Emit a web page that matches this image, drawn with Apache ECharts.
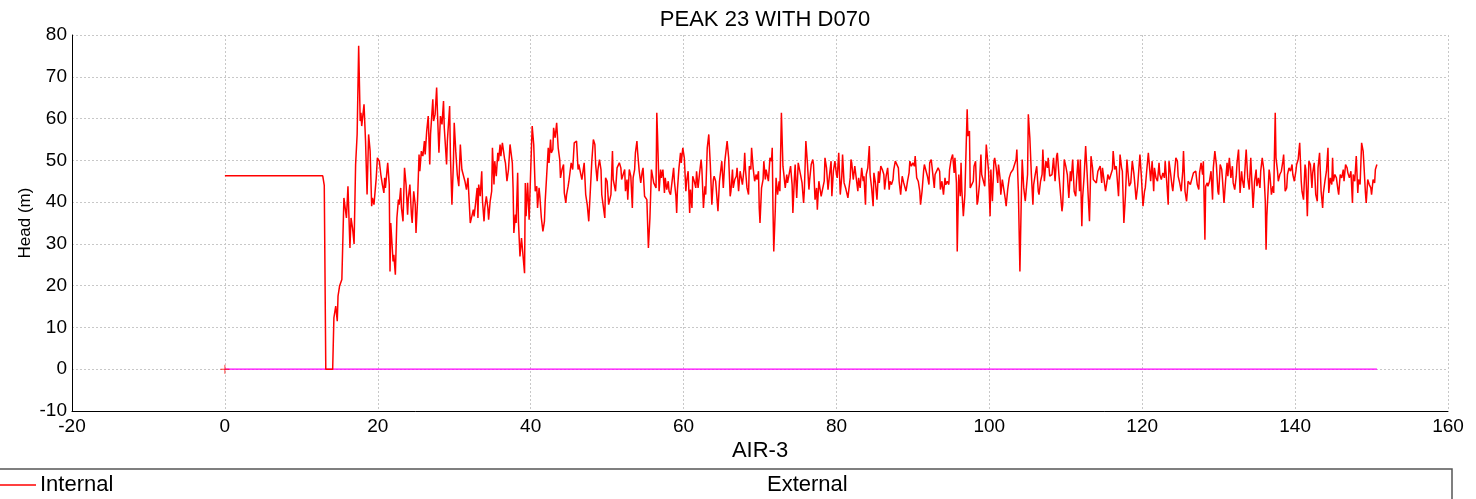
<!DOCTYPE html>
<html>
<head>
<meta charset="utf-8">
<title>PEAK 23 WITH D070</title>
<script src="https://cdn.jsdelivr.net/npm/echarts@6/dist/echarts.min.js"></script>
<style>
  html, body { margin: 0; padding: 0; background: #fff; }
  #chart { width: 1476px; height: 499px; }
</style>
</head>
<body>
<div id="chart"></div>
<script>
// time (AIR-3) vs head (m)
var internalPoints = [
  [0,46.3],[12.8,46.3],[13.0,44],[13.2,0],[14.1,0],[14.26,12.3],[14.5,15.1],[14.7,11.5],[14.8,17.5],[15.0,19.9],[15.3,21.5],
  [15.57,41],[15.9,36.2],[16.1,43.8],[16.36,29],[16.5,36.2],[16.7,33.8],[16.9,30],[17.1,49],[17.3,56.2],[17.5,77.4],[17.7,59.4],[17.8,61.4],[17.9,58.2],[18.2,63.4],[18.4,54.6],[18.6,41.8],[18.8,56.2],[19.0,52.2],[19.2,39],[19.3,41],[19.5,39.4],[19.8,45.8],[19.95,50.6],
  [20.2,49.8],[20.4,46.6],[20.6,44.2],[20.8,42.2],[20.9,45.8],[21.0,43.4],[21.3,49.4],[21.5,44.2],[21.6,23.4],[21.7,35],[21.9,35],[22.0,25.8],[22.1,27.4],[22.3,22.6],[22.5,36.2],[22.7,40.6],[22.8,39.4],[23.0,43.4],[23.1,38.6],[23.3,35.4],[23.5,48.2],[23.7,44.2],[23.9,37],[24.0,41],[24.2,44.2],[24.4,37],[24.5,35],[24.7,42.6],[24.9,39.4],
  [25.0,32.6],[25.2,40.2],[25.4,51.4],[25.5,47.4],[25.7,52.2],[25.9,51],[26.1,54.6],[26.2,51.4],[26.4,57],[26.6,60.6],[26.8,49],[26.9,56.2],[27.2,64.6],[27.3,59.4],[27.5,61],[27.7,67.4],[27.8,61.8],[28.0,51.8],[28.2,60.6],[28.4,58.6],[28.6,64.2],[28.7,57.8],[29.0,49],[29.1,54.6],[29.4,63],[29.5,51.4],[29.7,39.4],[29.9,49.8],
  [30.0,59],[30.2,52.2],[30.4,46.6],[30.6,43.8],[30.8,53.8],[31.0,47.8],[31.2,47.4],[31.4,45],[31.6,43],[31.8,45.8],[31.9,42.2],[32.1,35],[32.3,36.6],[32.5,38.2],[32.6,36.6],[32.8,39.8],[33.0,43.4],[33.1,36.2],[33.2,44.2],[33.4,41.4],[33.6,47.4],[33.7,40.2],[33.9,35.4],[34.0,38.6],[34.2,41.4],[34.4,38.6],[34.5,35.8],[34.7,40.2],[34.9,42.6],
  [35.0,53],[35.2,44.2],[35.3,49.8],[35.5,46.2],[35.7,51.8],[35.8,49.8],[36.0,53.8],[36.1,51],[36.3,54.2],[36.4,54.6],[36.6,50.2],[36.7,49.4],[36.9,45],[37.1,47.8],[37.3,53.8],[37.4,54.2],[37.6,49.4],[37.7,43.4],[37.8,32.6],[38.0,37],[38.1,35],[38.3,47],[38.4,35.4],[38.6,27],[38.8,31.4],[39.0,31],[39.2,23],[39.3,44.6],[39.4,36.6],[39.6,44.6],[39.8,35.8],
  [40.0,47.4],[40.2,58.2],[40.4,53.8],[40.6,42.6],[40.8,43.8],[40.9,38.6],[41.1,43.4],[41.2,41.4],[41.4,36.2],[41.6,33],[41.8,35.4],[41.9,40.2],[42.1,46.6],[42.3,53],[42.4,49.4],[42.6,55],[42.7,51.8],[42.9,52.6],[43.0,57.8],[43.2,55.4],[43.4,59],[43.5,59.4],[43.6,53],[43.8,50.2],[43.9,45.8],[44.1,47.8],[44.3,49],[44.4,42.2],[44.6,39.8],[44.7,41.8],[44.9,43.8],
  [45.0,45],[45.2,44.6],[45.3,49.4],[45.5,47.8],[45.7,54.2],[45.8,53.8],[46.0,54.6],[46.2,47.8],[46.3,49],[46.5,49.4],[46.7,45.4],[46.8,45.4],[47.0,49.4],[47.2,41.8],[47.4,39.4],[47.6,35.4],[47.8,42.6],[47.9,42.6],[48.0,49.8],[48.2,55],[48.4,53.8],[48.5,49],[48.7,45],[48.8,47.8],[49.0,50.2],[49.2,47.8],[49.3,41.8],[49.5,41.8],[49.7,36.2],[49.8,45.8],
  [50.0,45],[50.2,39.4],[50.3,39],[50.5,41.8],[50.7,52.2],[50.8,45.4],[51.0,45.8],[51.1,42.6],[51.3,48.2],[51.4,48.6],[51.6,49.4],[51.8,48.2],[51.9,45.4],[52.1,46.6],[52.3,47.8],[52.4,42.6],[52.6,45.4],[52.7,40.6],[52.9,47.8],[53.1,46.2],[53.3,38.6],[53.4,45.8],[53.6,47.8],[53.7,51.8],[53.9,54.6],[54.0,51.8],[54.2,47.4],[54.4,44.6],[54.6,47.4],[54.7,48.2],[54.9,41.4],
  [55.1,41],[55.2,40.6],[55.4,29],[55.6,36.2],[55.8,47.8],[55.9,48.2],[56.1,44.6],[56.2,45],[56.4,43.4],[56.5,61.4],[56.6,55.8],[56.8,42.6],[57.0,47.8],[57.1,45.8],[57.3,47.8],[57.5,42.2],[57.6,45.8],[57.8,43],[58.0,45],[58.1,42.6],[58.3,41.8],[58.5,41.4],[58.7,48.2],[58.8,45],[59.0,41.4],[59.1,37.4],[59.2,43],[59.4,48.2],[59.6,51.8],[59.7,49.4],[59.9,53],
  [60.1,50.6],[60.3,42.6],[60.4,45],[60.6,47.4],[60.8,37.4],[60.9,43],[61.1,38.6],[61.2,46.2],[61.4,45],[61.6,43.4],[61.7,47.4],[61.9,43.4],[62.1,47],[62.3,50.2],[62.4,47.8],[62.6,38.6],[62.8,43.8],[62.9,41.8],[63.1,53],[63.3,56.2],[63.5,49],[63.7,39.4],[63.9,45.4],[64.0,46.2],[64.2,45],[64.4,40.2],[64.5,37.8],[64.7,45],[64.9,48.2],
  [65.0,49.8],[65.2,43.4],[65.4,49.8],[65.5,49.8],[65.7,54.6],[65.9,50.6],[66.1,41.4],[66.2,42.6],[66.4,47.8],[66.5,43.4],[66.7,45.4],[66.9,46.2],[67.0,48.2],[67.2,42.6],[67.4,47.4],[67.5,47],[67.7,44.2],[67.9,47.8],[68.0,51.8],[68.1,47.8],[68.3,43.4],[68.5,41.8],[68.6,48.6],[68.8,47.8],[68.9,53],[69.1,48.2],[69.3,45],[69.5,46.6],[69.6,45.4],[69.8,47.4],[69.9,38.6],
  [70.0,35],[70.2,43.4],[70.4,45.4],[70.5,49.8],[70.7,45.4],[70.8,47.8],[71.0,47.8],[71.1,45],[71.3,50.6],[71.5,49.8],[71.6,53],[71.7,38.2],[71.8,28.2],[72.0,38.2],[72.1,45.8],[72.3,41.8],[72.5,45],[72.6,42.6],[72.8,61.4],[73.0,48.6],[73.1,47],[73.3,43.4],[73.5,46.6],[73.6,44.6],[73.8,46.6],[74.0,48.6],[74.2,44.2],[74.3,37.4],[74.5,45.8],[74.6,49],[74.8,41],
  [75.0,49.4],[75.2,49.8],[75.3,46.6],[75.5,44.6],[75.7,39.8],[75.8,42.6],[76.0,54.6],[76.2,49.4],[76.4,43],[76.5,45.4],[76.7,49],[76.9,50.2],[77.0,49],[77.2,40.6],[77.4,43.4],[77.5,38.2],[77.7,45],[77.8,45],[78.0,41.4],[78.2,41.8],[78.4,45],[78.5,50.6],[78.7,48.2],[78.9,43],[79.1,46.6],[79.3,49.8],[79.4,41.4],[79.6,47.4],[79.8,49.8],
  [80.0,46.6],[80.1,45.8],[80.3,51.8],[80.5,41.8],[80.7,46.2],[80.8,51.4],[81.0,44.6],[81.2,43.4],[81.3,43.4],[81.5,41],[81.8,45.8],[81.9,50.2],[82.0,49.4],[82.2,45.4],[82.4,48.6],[82.6,48.6],[82.8,42.6],[82.9,45.8],[83.1,43.4],[83.3,48.2],[83.5,45],[83.6,46.2],[83.8,39.4],[83.9,46.6],[84.1,48.2],[84.3,53.4],[84.4,46.6],[84.6,43.4],[84.8,39],[84.9,47],
  [85.1,44.6],[85.3,40.6],[85.5,47.4],[85.6,44.6],[85.8,48.6],[86.0,47.8],[86.2,46.6],[86.3,43],[86.5,46.2],[86.7,48.2],[86.9,43],[87.0,45],[87.2,44.2],[87.4,45.4],[87.5,47.8],[87.7,49.8],[87.9,50.2],[88.1,48.2],[88.2,45],[88.4,41.8],[88.6,46.2],[88.8,44.6],[88.9,44.2],[89.1,42.6],[89.3,45],[89.5,47],[89.6,49.8],[89.8,48.6],
  [90.0,49.4],[90.2,48.6],[90.3,51],[90.5,45.8],[90.7,45],[90.9,42.6],[91.0,39.4],[91.2,42.6],[91.4,47.4],[91.5,49],[91.7,49.4],[91.9,46.2],[92.1,44.2],[92.2,49.4],[92.4,50.2],[92.6,50.6],[92.8,43.4],[92.9,46.6],[93.1,46.6],[93.3,48.2],[93.5,47.4],[93.6,43],[93.8,45],[94.0,41.8],[94.2,45.8],[94.3,44.2],[94.5,45],[94.7,44.2],[94.8,47.8],
  [95.0,50.2],[95.2,51.4],[95.4,47],[95.5,50.6],[95.7,44.6],[95.8,28.2],[96.0,46.6],[96.2,41.4],[96.3,49.4],[96.4,43],[96.6,36.6],[96.8,41.8],[97.0,41.8],[97.1,62.2],[97.2,55.8],[97.4,57],[97.5,43.4],[97.7,43],[97.9,45],[98.0,48.6],[98.2,49.8],[98.4,39.4],[98.5,40.2],[98.7,44.2],[98.9,51.4],[99.0,46.6],[99.2,46.2],[99.4,43.8],[99.6,53.8],[99.7,54.2],[99.9,47.4],
  [100.1,36.6],[100.2,47.8],[100.4,40.2],[100.6,49.8],[100.7,50.6],[100.9,48.2],[101.1,44.6],[101.2,49],[101.4,45.8],[101.5,41.8],[101.7,45.4],[101.9,43],[102.1,40.6],[102.2,39],[102.4,43],[102.6,45.8],[102.8,47],[102.9,47.4],[103.1,47.8],[103.3,47.8],[103.5,50.2],[103.6,52.6],[103.8,42.6],[104.0,23.4],[104.2,42.6],[104.3,50.2],[104.5,43.4],[104.7,40.2],[104.9,39.8],
  [105.0,46.6],[105.1,61],[105.3,55.4],[105.5,46.6],[105.7,39.4],[105.8,44.2],[106.0,46.6],[106.2,48.6],[106.4,42.6],[106.5,41.8],[106.7,45],[106.9,46.6],[107.0,52.6],[107.2,45],[107.4,49.8],[107.6,48.2],[107.7,50.6],[107.9,46.2],[108.1,45.8],[108.2,46.6],[108.4,50.6],[108.6,45],[108.8,51],[108.9,51.8],[109.1,46.6],[109.3,46.6],[109.5,37.8],[109.6,39.4],[109.8,50.2],
  [110.0,48.6],[110.2,46.6],[110.4,41],[110.6,47.4],[110.7,45],[110.9,50.2],[111.1,42.6],[111.3,41.4],[111.4,45],[111.6,50.2],[111.8,42.6],[111.9,50.2],[112.1,34.2],[112.2,41],[112.4,46.2],[112.6,53.4],[112.8,46.6],[112.9,42.6],[113.1,35.4],[113.3,51],[113.5,48.2],[113.6,45.4],[113.8,45],[114.0,44.6],[114.2,47.4],[114.3,47.4],[114.5,48.6],[114.7,44.6],[114.8,48.2],
  [115.0,47.8],[115.2,42.6],[115.4,45],[115.5,46.6],[115.7,45.4],[115.9,46.6],[116.1,47.8],[116.2,52.2],[116.4,47.8],[116.6,48.6],[116.8,43.8],[116.9,41.4],[117.1,51.4],[117.3,48.2],[117.4,47.4],[117.6,35],[117.8,41.4],[118.0,50.2],[118.2,45.8],[118.3,43.8],[118.5,44.6],[118.7,49.8],[118.9,47],[119.0,45],[119.2,40.6],[119.4,43.8],[119.5,44.2],[119.7,51.4],[119.9,45.8],
  [120.1,39],[120.3,42.6],[120.4,43.4],[120.6,47.8],[120.8,51.8],[121.0,47.4],[121.1,45],[121.3,49.8],[121.5,42.6],[121.6,48.2],[121.8,45.8],[122.0,45],[122.2,49.4],[122.3,46.6],[122.5,45.4],[122.7,47],[122.9,45.8],[123.0,49.8],[123.2,45],[123.4,39.4],[123.5,49.8],[123.7,47],[123.9,43.8],[124.0,42.6],[124.2,46.6],[124.4,50.6],[124.6,49.8],[124.7,46.2],[124.9,44.6],
  [125.1,42.6],[125.3,47.4],[125.4,52.2],[125.6,42.6],[125.8,40.2],[126.0,45],[126.2,44.6],[126.3,44.2],[126.5,44.6],[126.7,47],[126.8,46.6],[127.0,47.4],[127.2,44.2],[127.4,43],[127.5,47],[127.7,49.4],[127.9,46.6],[128.0,49.8],[128.2,31],[128.3,43.8],[128.5,44.6],[128.6,43.8],[128.8,45],[129.0,47.4],[129.2,40.6],[129.3,48.2],[129.5,52.2],[129.7,49],[129.9,42.6],
  [130.0,41.8],[130.2,49],[130.4,47.8],[130.5,45.4],[130.7,39.8],[130.9,45],[131.1,49.4],[131.2,46.2],[131.4,50.6],[131.6,45.8],[131.8,48.6],[131.9,44.6],[132.1,43],[132.3,46.2],[132.4,49.4],[132.6,52.6],[132.8,42.2],[133.0,47.4],[133.1,45.4],[133.3,43.4],[133.5,49.8],[133.6,52.6],[133.8,45.8],[134.0,43],[134.2,50.6],[134.3,46.6],[134.5,38.6],[134.7,45],[134.9,47.8],
  [135.0,43.8],[135.2,45.8],[135.4,43.4],[135.5,47.4],[135.7,50.6],[135.9,47.8],[136.1,40.2],[136.2,28.6],[136.3,36.6],[136.5,37],[136.6,47.8],[136.7,46.6],[136.9,41.8],[137.1,43.8],[137.2,42.2],[137.4,61.4],[137.5,50.6],[137.7,47.4],[137.8,45],[138.0,46.6],[138.2,47.4],[138.4,49.8],[138.5,51.4],[138.7,42.6],[138.9,43.4],[139.0,46.6],[139.2,48.2],[139.4,47.4],[139.6,49],[139.7,46.6],[139.9,45],
  [140.1,47.4],[140.2,49],[140.4,50.2],[140.6,54.2],[140.8,45],[140.9,42.6],[141.1,40.6],[141.3,49],[141.4,47.8],[141.6,36.6],[141.8,49.8],[142.0,49],[142.2,43.4],[142.3,47],[142.5,49.4],[142.7,41.8],[142.9,40.2],[143.0,48.2],[143.2,51.8],[143.4,42.6],[143.6,38.6],[143.7,42.2],[143.9,45],[144.1,47.4],[144.3,53],[144.4,42.2],[144.6,45.8],[144.8,44.2],[144.9,50.6],
  [145.0,45],[145.2,46.6],[145.4,45.8],[145.6,43],[145.7,41.8],[145.9,46.6],[146.1,45.8],[146.3,47.8],[146.4,45],[146.6,49],[146.8,48.2],[146.9,47],[147.1,45.8],[147.3,47.4],[147.5,39.8],[147.6,46.6],[147.8,45],[148.0,51],[148.2,42.2],[148.3,45.4],[148.5,44.2],[148.7,54.2],[148.9,52.2],[149.0,49],[149.2,42.2],[149.3,39.8],[149.5,45.4],[149.7,44.2],[149.9,43.4],
  [150.0,41.8],[150.2,45.4],[150.4,44.6],[150.5,47.8],[150.7,49]
];
var externalPoints = [[0, 0], [150.7, 0]];
var startMarker = [[0, 0]];

var xRange = { min: -20, max: 160, step: 20 };
var yRange = { min: -10, max: 80, step: 10 };

var FONT = 'Liberation Sans, Arial, sans-serif';

var chart = echarts.init(document.getElementById('chart'));
chart.setOption({
  backgroundColor: '#fff',
  animation: false,
  title: {
    text: 'PEAK 23 WITH D070',
    left: 760,
    top: 4,
    textAlign: 'center',
    textStyle: { fontFamily: FONT, fontSize: 22, fontWeight: 'normal', color: '#000' }
  },
  legend: [{
    data: ['Internal'],
    left: 0,
    top: 474,
    padding: 0,
    itemWidth: 36,
    itemHeight: 1.5,
    itemGap: 0,
    icon: 'path://M0,0H36V1.5H0Z',
    textStyle: { fontFamily: FONT, fontSize: 22, color: '#000', padding: [0, 0, 0, -1] }
  }, {
    data: ['External'],
    left: 726,
    top: 474,
    padding: 0,
    itemWidth: 36,
    itemHeight: 1.5,
    icon: 'none',
    textStyle: { fontFamily: FONT, fontSize: 22, color: '#000' }
  }],
  graphic: [{
    type: 'rect',
    silent: true,
    shape: { x: -2, y: 469, width: 1454, height: 40 },
    style: { fill: 'none', stroke: '#555', lineWidth: 1.5 }
  }],
  grid: { left: 72, right: 28, top: 35, bottom: 88, containLabel: false },
  xAxis: {
    type: 'value',
    min: xRange.min,
    max: xRange.max,
    interval: xRange.step,
    name: 'AIR-3',
    nameLocation: 'middle',
    nameGap: 29,
    nameMoveOverlap: false,
    nameTextStyle: { fontFamily: FONT, fontSize: 22, color: '#000' },
    axisLine: { show: true, onZero: false, lineStyle: { color: '#000', width: 1 } },
    axisTick: { show: false },
    axisLabel: { fontFamily: FONT, fontSize: 19, color: '#000', margin: 6, showMinLabel: true, showMaxLabel: true },
    splitLine: { show: true, lineStyle: { color: '#c8c8c8', type: [2, 2], width: 1 } }
  },
  yAxis: {
    type: 'value',
    min: yRange.min,
    max: yRange.max,
    interval: yRange.step,
    name: 'Head (m)',
    nameLocation: 'middle',
    nameRotate: 90,
    nameGap: 38,
    nameMoveOverlap: false,
    nameTextStyle: { fontFamily: FONT, fontSize: 17, color: '#000' },
    axisLine: { show: true, onZero: false, lineStyle: { color: '#000', width: 1 } },
    axisTick: { show: false },
    axisLabel: { fontFamily: FONT, fontSize: 19, color: '#000', margin: 5 },
    splitLine: { show: true, lineStyle: { color: '#c8c8c8', type: [2, 2], width: 1 } }
  },
  series: [{
    name: 'Internal',
    type: 'line',
    data: internalPoints,
    symbol: 'none',
    color: '#ff0000',
    lineStyle: { color: '#ff0000', width: 1.5 },
    z: 3
  }, {
    name: 'External',
    type: 'line',
    data: externalPoints,
    symbol: 'none',
    color: '#ff00ff',
    lineStyle: { color: '#ff00ff', width: 1.2 },
    z: 2
  }, {
    name: 'start',
    type: 'scatter',
    data: startMarker,
    symbol: 'path://M0,4.5H10V5.5H0Z M4.5,0H5.5V10H4.5Z',
    symbolSize: 9,
    itemStyle: { color: '#ff0000' },
    silent: true,
    z: 4
  }]
});
</script>
</body>
</html>
